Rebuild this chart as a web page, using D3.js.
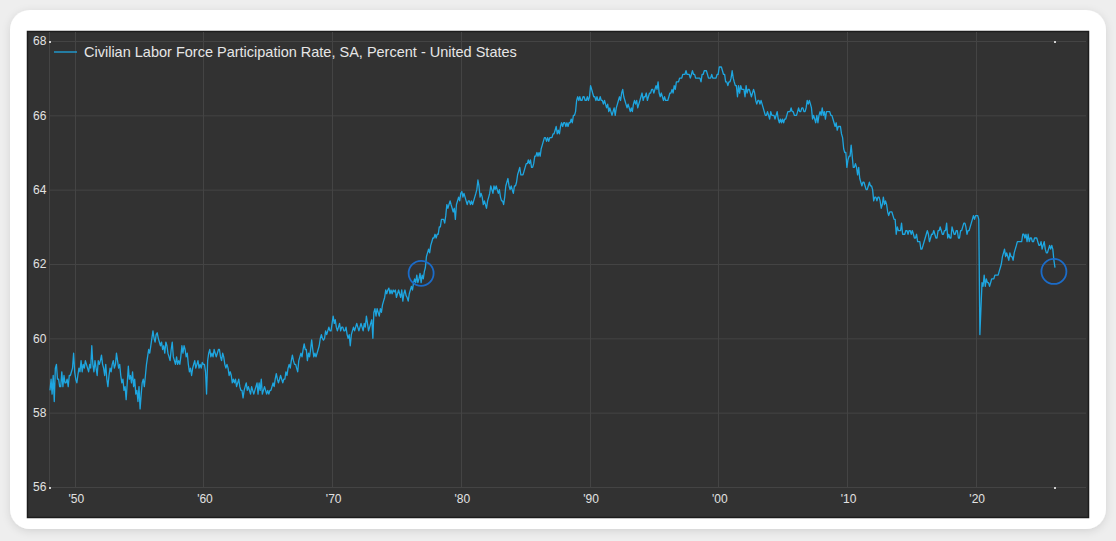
<!DOCTYPE html>
<html>
<head>
<meta charset="utf-8">
<script src="https://cdn.jsdelivr.net/npm/d3@7"></script>
<style>
    html, body { margin: 0; padding: 0; background: #eeeeee; }
    svg { display: block; font-family: "Liberation Sans", Arial, sans-serif; }
</style>
</head>
<body>
<div id="chart"></div>
<script>
// monthly civilian labor force participation rate (percent), one line per year
var lfpr1940s = [
    58.6, 58.9, 58.5, 59.0, 58.3, 59.2, 59.3, 58.9, 58.9, 58.7, 58.7, 59.1,
    58.7, 59.0, 58.8, 58.8, 58.9, 58.7, 59.0, 59.0, 59.1, 59.2, 59.6, 59.1
];
var lfpr1950s = [
    58.9, 58.8, 59.0, 59.2, 59.1, 59.4, 59.1, 59.3, 59.2, 59.4, 59.3, 59.2,
    59.1, 59.3, 59.2, 59.8, 59.3, 59.1, 59.4, 59.2, 59.0, 59.4, 59.3, 59.4,
    59.55, 59.3, 59.2, 59.0, 59.3, 58.9, 58.7, 59.0, 59.2, 59.1, 59.3, 59.4,
    59.2, 59.3, 59.6, 59.4, 59.2, 59.3, 59.0, 58.8, 58.9, 58.6, 58.7, 58.35,
    58.8, 59.25, 58.9, 59.0, 58.8, 59.1, 58.7, 58.9, 58.5, 58.6, 58.3, 58.7,
    58.1, 58.5, 58.8, 58.9, 58.7, 59.0, 59.3, 59.5, 59.7, 59.6, 59.8, 60.0,
    60.2, 60.0, 59.9, 60.1, 60.15, 60.0, 59.9, 59.8, 59.9, 59.7, 59.8, 59.6,
    59.9, 59.8, 59.6, 59.5, 59.4, 59.7, 59.9, 59.5, 59.4, 59.3, 59.5, 59.3,
    59.4, 59.3, 59.5, 59.8, 59.6, 59.8, 59.7, 59.5, 59.6, 59.3, 59.1, 59.2,
    59.0, 59.2, 59.3, 59.4, 59.2, 59.3, 59.4, 59.2, 59.3, 59.2, 59.35, 59.3
];
var lfpr1960s = [
    59.3, 59.1, 58.5, 59.4, 59.6, 59.7, 59.5, 59.6, 59.5, 59.7, 59.6, 59.5,
    59.6, 59.7, 59.7, 59.5, 59.4, 59.6, 59.5, 59.3, 59.2, 59.3, 59.2, 59.0,
    59.1, 59.0, 58.8, 58.9, 58.8, 58.9, 58.7, 58.8, 58.9, 58.7, 58.6, 58.6,
    58.4, 58.6, 58.7, 58.8, 58.6, 58.7, 58.6, 58.5, 58.7, 58.6, 58.5, 58.6,
    58.7, 58.8, 58.5, 58.8, 58.6, 58.9, 58.5, 58.6, 58.7, 58.6, 58.5, 58.6,
    58.5, 58.6, 58.6, 58.7, 58.8, 58.7, 58.9, 59.05, 58.9, 58.8, 58.9, 59.0,
    58.9, 58.8, 58.9, 58.9, 59.1, 59.0, 59.2, 59.3, 59.2, 59.4, 59.55, 59.4,
    59.3, 59.3, 59.2, 59.1, 59.4, 59.5, 59.6, 59.5, 59.7, 59.85, 59.7, 59.7,
    59.4, 59.6, 59.5, 59.7, 59.96, 59.7, 59.5, 59.6, 59.5, 59.6, 59.7, 59.8,
    60.0, 60.1, 60.0, 59.95, 60.0, 60.2, 60.1, 60.2, 60.3, 60.2, 60.2, 60.4
];
var lfpr1970s = [
    60.6, 60.4, 60.5, 60.3, 60.2, 60.3, 60.4, 60.2, 60.3, 60.3, 60.2, 60.2,
    60.3, 60.1, 60.0, 60.1, 59.8, 60.1, 60.2, 60.3, 60.2, 60.3, 60.4, 60.3,
    60.2, 60.3, 60.4, 60.3, 60.2, 60.4, 60.3, 60.6, 60.4, 60.2, 60.3, 60.4,
    60.5, 60.0, 60.7, 60.8, 60.6, 60.8, 60.7, 60.6, 60.8, 60.7, 60.9, 61.0,
    61.1, 61.3, 61.2, 61.3, 61.35, 61.2, 61.3, 61.2, 61.3, 61.25, 61.3, 61.1,
    61.2, 61.3, 61.2, 61.1, 61.3, 61.0, 61.2, 61.3, 61.15, 61.1, 61.0, 61.2,
    61.3, 61.4, 61.3, 61.5, 61.6, 61.5, 61.7, 61.5, 61.6, 61.75, 61.5, 61.7,
    61.6, 61.8, 61.9, 62.2, 62.3, 62.4, 62.3, 62.5, 62.6, 62.7, 62.7, 62.8,
    62.7, 62.8, 62.8, 63.0, 63.0, 63.2, 63.2, 63.2, 63.1, 63.3, 63.6, 63.5,
    63.6, 63.7, 63.6, 63.5, 63.4, 63.5, 63.2, 63.6, 63.7, 63.8, 63.7, 63.9
];
var lfpr1980s = [
    63.95, 63.8, 63.9, 63.8, 63.7, 63.6, 63.7, 63.7, 63.6, 63.7, 63.6, 63.7,
    63.8, 63.9, 64.0, 64.26, 64.1, 63.8, 63.9, 63.8, 63.6, 63.7, 63.6, 63.5,
    63.7, 63.8, 63.9, 64.1, 64.0, 63.9, 64.1, 64.0, 64.1, 64.0, 63.9, 64.0,
    63.8, 63.7, 63.7, 63.6, 63.8, 64.1, 64.2, 64.3, 64.1, 64.0, 64.1, 64.0,
    63.9, 64.1, 64.1, 64.2, 64.4, 64.5, 64.6, 64.4, 64.4, 64.4, 64.5, 64.6,
    64.7, 64.7, 64.8, 64.7, 64.8, 64.6, 64.6, 64.7, 64.9, 64.9, 65.0, 64.9,
    65.0, 64.9, 65.1, 65.2, 65.3, 65.4, 65.4, 65.3, 65.4, 65.3, 65.4, 65.4,
    65.4, 65.5, 65.5, 65.6, 65.7, 65.5, 65.6, 65.5, 65.7, 65.8, 65.7, 65.8,
    65.8, 65.7, 65.8, 65.7, 65.8, 65.8, 65.9, 65.8, 66.0, 66.0, 66.1, 66.4,
    66.5, 66.4, 66.5, 66.4, 66.4, 66.5, 66.5, 66.4, 66.4, 66.5, 66.4, 66.5
];
var lfpr1990s = [
    66.8, 66.7, 66.6, 66.5, 66.5, 66.4, 66.5, 66.4, 66.4, 66.5, 66.4, 66.4,
    66.3, 66.4, 66.3, 66.2, 66.3, 66.1, 66.2, 66.1, 66.0, 66.1, 66.2, 66.0,
    66.2, 66.3, 66.4, 66.5, 66.4, 66.6, 66.7, 66.5, 66.4, 66.3, 66.2, 66.3,
    66.2, 66.1, 66.2, 66.1, 66.3, 66.4, 66.3, 66.4, 66.2, 66.3, 66.4, 66.5,
    66.6, 66.4, 66.5, 66.5, 66.6, 66.4, 66.5, 66.6, 66.6, 66.7, 66.7, 66.6,
    66.7, 66.8, 66.7, 66.9, 66.6, 66.5, 66.6, 66.5, 66.4, 66.5, 66.4, 66.4,
    66.4, 66.5, 66.6, 66.6, 66.7, 66.6, 66.8, 66.7, 66.9, 66.9, 66.9, 67.0,
    67.0, 67.0, 67.1, 67.1, 67.1, 67.2, 67.1, 67.1, 67.1, 67.0, 67.1, 67.2,
    67.1, 67.1, 67.0, 67.0, 67.0, 67.0, 67.0, 66.9, 67.1, 67.1, 67.2, 67.2,
    67.2, 67.1, 67.0, 67.0, 67.0, 67.1, 67.0, 67.0, 67.0, 67.0, 67.1, 67.1
];
var lfpr2000s = [
    67.3, 67.3, 67.3, 67.2, 67.1, 67.1, 66.9, 66.9, 66.8, 66.9, 66.9, 67.0,
    67.2, 67.0, 66.9, 66.8, 66.8, 66.5, 66.8, 66.6, 66.8, 66.7, 66.7, 66.7,
    66.5, 66.8, 66.6, 66.7, 66.7, 66.6, 66.5, 66.6, 66.7, 66.6, 66.4, 66.3,
    66.4, 66.4, 66.3, 66.4, 66.3, 66.2, 66.1, 66.0, 66.0, 66.1, 66.0, 65.9,
    66.1, 66.0, 66.0, 66.0, 65.9, 66.0, 66.1, 65.9, 65.8, 65.9, 65.8, 65.9,
    65.8, 65.9, 65.9, 66.0, 66.1, 66.1, 66.1, 66.2, 66.1, 66.1, 66.0, 66.0,
    66.0, 66.1, 66.2, 66.1, 66.1, 66.2, 66.2, 66.1, 66.1, 66.2, 66.4, 66.3,
    66.4, 66.3, 66.2, 65.9, 66.0, 65.9, 65.8, 66.0, 65.8, 66.0, 66.1, 66.0,
    66.2, 66.0, 66.1, 65.9, 66.1, 66.1, 66.1, 66.1, 66.0, 66.0, 65.9, 65.8,
    65.7, 65.8, 65.6, 65.7, 65.7, 65.7, 65.5, 65.4, 65.1, 65.0, 65.0, 64.6
];
var lfpr2010s = [
    64.8, 64.9, 64.9, 65.2, 64.9, 64.6, 64.6, 64.7, 64.6, 64.4, 64.6, 64.3,
    64.2, 64.1, 64.2, 64.2, 64.1, 64.0, 64.0, 64.1, 64.2, 64.1, 64.1, 64.0,
    63.7, 63.8, 63.8, 63.7, 63.8, 63.8, 63.7, 63.5, 63.6, 63.8, 63.6, 63.7,
    63.6, 63.4, 63.3, 63.4, 63.4, 63.4, 63.3, 63.2, 63.2, 62.8, 63.0, 62.9,
    62.9, 62.9, 63.1, 62.8, 62.8, 62.8, 62.9, 62.9, 62.8, 62.9, 62.9, 62.8,
    62.9, 62.8, 62.7, 62.7, 62.8, 62.6, 62.6, 62.6, 62.4, 62.4, 62.5, 62.6,
    62.7, 62.8, 62.9, 62.8, 62.6, 62.7, 62.8, 62.8, 62.9, 62.8, 62.7, 62.7,
    62.9, 62.9, 63.0, 62.9, 62.8, 62.8, 62.9, 62.9, 63.1, 62.7, 62.8, 62.7,
    62.7, 63.0, 62.9, 62.8, 62.8, 62.9, 62.9, 62.7, 62.7, 62.9, 62.9, 63.0,
    63.1, 63.1, 63.0, 62.8, 62.9, 62.9, 63.0, 63.1, 63.2, 63.3, 63.2, 63.3
];
var lfpr2020s = [
    63.3, 63.3, 63.2, 60.1, 60.8, 61.5, 61.4, 61.7, 61.4, 61.6, 61.5, 61.5,
    61.4, 61.5, 61.6, 61.6, 61.6, 61.7, 61.7, 61.7, 61.7, 61.8, 61.9, 62.0,
    62.2, 62.3, 62.4, 62.2, 62.3, 62.2, 62.1, 62.3, 62.2, 62.2, 62.1, 62.3,
    62.4, 62.5, 62.6, 62.6, 62.6, 62.6, 62.6, 62.8, 62.8, 62.7, 62.8, 62.6,
    62.8, 62.6, 62.7, 62.7, 62.6, 62.6, 62.7, 62.7, 62.7, 62.6, 62.5, 62.5,
    62.6, 62.4, 62.5, 62.6, 62.4, 62.3, 62.3, 62.4, 62.5, 62.4, 62.5, 62.4,
    62.1, 61.9
];
var firstMonth = "1948-01";

// axis ticks
var xTickYears = [1950, 1960, 1970, 1980, 1990, 2000, 2010, 2020];
var xTickLabels = ["'50", "'60", "'70", "'80", "'90", "'00", "'10", "'20"];
var yTicks = [56, 58, 60, 62, 64, 66, 68];

// highlighted points (blue rings)
var ringDates = ["1976-11", "2026-01"];
var ringValues = [61.75, 61.8];

var seriesName = "Civilian Labor Force Participation Rate, SA, Percent - United States";

var width = 1116, height = 541;
var lineColor = "#1ea6e0";

var parseMonth = d3.timeParse("%Y-%m");
var start = parseMonth(firstMonth);

// glue the decades together and attach a date to every month
var values = [].concat(lfpr1940s, lfpr1950s, lfpr1960s, lfpr1970s, lfpr1980s, lfpr1990s, lfpr2000s, lfpr2010s, lfpr2020s);
var data = values.map(function (v, i) {
    return { date: d3.timeMonth.offset(start, i), value: v };
});

var svg = d3.select("#chart").append("svg")
    .attr("width", width)
    .attr("height", height);

// soft shadow for the white card
var defs = svg.append("defs");
var shadow = defs.append("filter").attr("id", "shadow")
    .attr("x", "-5%").attr("y", "-5%").attr("width", "110%").attr("height", "115%");
shadow.append("feDropShadow")
    .attr("dx", 0).attr("dy", 2)
    .attr("stdDeviation", 4)
    .attr("flood-color", "#000")
    .attr("flood-opacity", 0.12);

// white card and dark panel
svg.append("rect")
    .attr("x", 10).attr("y", 10)
    .attr("width", 1096).attr("height", 519)
    .attr("rx", 20)
    .attr("fill", "#fff")
    .attr("filter", "url(#shadow)");

svg.append("rect")
    .attr("x", 27.5).attr("y", 31.5)
    .attr("width", 1061).attr("height", 486)
    .attr("fill", "#323232")
    .attr("stroke", "#1c1c1c")
    .attr("stroke-width", 1.5);

// scales
var x = d3.scaleTime()
    .domain(d3.extent(data, function (d) { return d.date; }))
    .range([50, 1055]);

var y = d3.scaleLinear()
    .domain([56, 68])
    .range([487, 41]);

var grid = svg.append("g").attr("class", "grid");

// horizontal grid lines
grid.selectAll("line.h")
    .data(yTicks)
    .enter().append("line")
    .attr("class", "h")
    .attr("x1", 49).attr("x2", 1086)
    .attr("y1", function (d) { return y(d) + 0.5; })
    .attr("y2", function (d) { return y(d) + 0.5; })
    .attr("stroke", "#444444")
    .attr("stroke-width", 1);

// vertical grid lines on the decades, plus the left edge of the plot
var xGridDates = [start].concat(xTickYears.map(function (yr) { return new Date(yr, 0, 1); }));
grid.selectAll("line.v")
    .data(xGridDates)
    .enter().append("line")
    .attr("class", "v")
    .attr("x1", function (d) { return Math.round(x(d)) - 0.5; })
    .attr("x2", function (d) { return Math.round(x(d)) - 0.5; })
    .attr("y1", 32).attr("y2", y(56))
    .attr("stroke", "#444444")
    .attr("stroke-width", 1);

// y axis labels
var yAxis = svg.append("g")
    .attr("transform", "translate(33,0)")
    .call(d3.axisRight(y).tickValues(yTicks).tickSize(0).tickPadding(0));
yAxis.select(".domain").remove();
yAxis.selectAll("text")
    .attr("fill", "#e2e2e2")
    .attr("font-size", "12px")
    .attr("font-family", "Liberation Sans, Arial, sans-serif");

// x axis labels
var xAxis = svg.append("g")
    .attr("transform", "translate(0,494)")
    .call(d3.axisBottom(x)
        .tickValues(xTickYears.map(function (yr) { return new Date(yr, 0, 1); }))
        .tickFormat(function (d, i) { return xTickLabels[i]; })
        .tickSize(0)
        .tickPadding(0));
xAxis.select(".domain").remove();
xAxis.selectAll("text")
    .attr("fill", "#e2e2e2")
    .attr("font-size", "12px")
    .attr("font-family", "Liberation Sans, Arial, sans-serif");

// small corner marks of the plot area
var corners = [
    [x.domain()[0], 68], [x.domain()[0], 56],
    [x.domain()[1], 68], [x.domain()[1], 56]
];
svg.selectAll("rect.corner")
    .data(corners)
    .enter().append("rect")
    .attr("class", "corner")
    .attr("x", function (d) { return x(d[0]) - 1; })
    .attr("y", function (d) { return y(d[1]); })
    .attr("width", 2).attr("height", 2)
    .attr("fill", "#d0d0d0");

// the series line
var line = d3.line()
    .x(function (d) { return x(d.date); })
    .y(function (d) { return y(d.value); });

svg.append("path")
    .datum(data)
    .attr("fill", "none")
    .attr("stroke", lineColor)
    .attr("stroke-width", 1.3)
    .attr("stroke-linejoin", "round")
    .attr("d", line);

// blue rings round the highlighted points
svg.selectAll("circle.ring")
    .data(ringDates.map(function (d, i) { return { date: parseMonth(d), value: ringValues[i] }; }))
    .enter().append("circle")
    .attr("class", "ring")
    .attr("cx", function (d) { return x(d.date); })
    .attr("cy", function (d) { return y(d.value); })
    .attr("r", 12.5)
    .attr("fill", "none")
    .attr("stroke", "#1b6cc9")
    .attr("stroke-width", 1.8);

// legend
var legend = svg.append("g").attr("transform", "translate(54,52)");
legend.append("line")
    .attr("x1", 0).attr("x2", 23)
    .attr("y1", 0).attr("y2", 0)
    .attr("stroke", lineColor)
    .attr("stroke-width", 1.3);
legend.append("text")
    .attr("x", 30)
    .attr("dy", "0.35em")
    .attr("fill", "#e6e6e6")
    .attr("font-size", "14.5px")
    .text(seriesName);
</script>
</body>
</html>
